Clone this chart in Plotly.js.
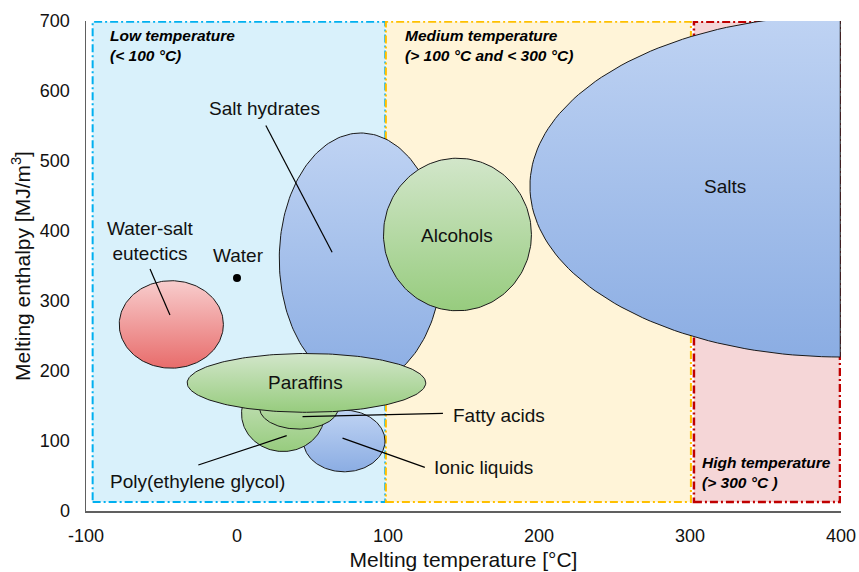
<!DOCTYPE html>
<html>
<head>
<meta charset="utf-8">
<script src="https://cdn.plot.ly/plotly-3.0.1.min.js"></script>
<style>
  html, body { margin: 0; padding: 0; background: #ffffff; }
  #chart { width: 859px; height: 572px; }
</style>
</head>
<body>
<div id="chart"></div>
<script>
// Material classes: melting temperature range [°C] and melting enthalpy range [MJ/m³]
const materials = ['Salts', 'Salt hydrates', 'Alcohols', 'Water-salt eutectics',
                   'Ionic liquids', 'Poly(ethylene glycol)', 'Fatty acids', 'Paraffins'];
const tMin = [194,  28,  97, -78,  44,   3,  15, -33];
const tMax = [606, 136, 195,  -9,  98,  58,  67, 125];
const hMin = [220, 180, 286, 204,  56,  85, 117, 141];
const hMax = [708, 540, 504, 329, 144, 193, 177, 225];
const family = ['blue', 'blue', 'green', 'red', 'blue', 'green', 'green', 'green'];

// Water as a single reference point
const waterT = [0];
const waterH = [333];

// Temperature bands
const bandNames = ['Low temperature<br>(< 100 °C)',
                   'Medium temperature<br>(> 100 °C and < 300 °C)',
                   'High temperature<br>(> 300 °C )'];
const bandFrom = [-95.6, 98.6, 302.6];
const bandTo   = [98.2, 300.6, 399.3];

const xTicks = [-100, 0, 100, 200, 300, 400];
const yTicks = [0, 100, 200, 300, 400, 500, 600, 700];

// ---- styling ----
const X_RANGE = [-100, 400];
const Y_RANGE = [0, 700];
const FONT = 'Arial, "Liberation Sans", sans-serif';
const gradients = {
  blue:  { top: '#bfd3f3', bottom: '#8badE3' },
  green: { top: '#d2e6ca', bottom: '#97cc7e' },
  red:   { top: '#f8cdcd', bottom: '#e86c6b' }
};
const bandStyle = [
  { fill: '#d9f1fb', line: '#00b0f0', width: 2 },
  { fill: '#fff4d8', line: '#ffc000', width: 2 },
  { fill: '#f5d6d7', line: '#c00000', width: 2.5 }
];

// Build an ellipse outline spanning a temperature / enthalpy range,
// held inside the visible temperature axis.
function ellipse(i) {
  const cx = (tMin[i] + tMax[i]) / 2, cy = (hMin[i] + hMax[i]) / 2;
  const a = (tMax[i] - tMin[i]) / 2, b = (hMax[i] - hMin[i]) / 2;
  const xs = [], ys = [];
  const n = 200;
  const xEdge = X_RANGE[1] - 0.5;
  for (let k = 0; k <= n; k++) {
    const t = 2 * Math.PI * k / n;
    xs.push(Math.min(cx + a * Math.cos(t), xEdge));
    ys.push(cy + b * Math.sin(t));
  }
  return { xs, ys };
}

const traces = materials.map((name, i) => {
  const e = ellipse(i);
  const g = gradients[family[i]];
  return {
    type: 'scatter', mode: 'lines', name: name,
    x: e.xs, y: e.ys,
    fill: 'toself',
    fillgradient: { type: 'vertical', colorscale: [[0, g.bottom], [1, g.top]] },
    line: { color: '#1a1a1a', width: 1 },
    hoverinfo: 'skip', showlegend: false
  };
});

traces.push({
  type: 'scatter', mode: 'markers', name: 'Water',
  x: waterT, y: waterH,
  marker: { color: '#000000', size: 8 },
  hoverinfo: 'skip', showlegend: false
});

// Band rectangles
const shapes = bandNames.map((_, i) => ({
  type: 'rect', layer: 'below', xref: 'x', yref: 'y',
  x0: bandFrom[i], x1: bandTo[i], y0: 13, y1: 699,
  fillcolor: bandStyle[i].fill,
  line: { color: bandStyle[i].line, width: bandStyle[i].width, dash: '8px,3px,2px,3px' }
}));

// Leader lines from labels to their regions
const leaders = [
  [19.1, 550.7, 63.0, 369.7],
  [-57.6, 345.7, -44.4, 280.0],
  [43.4, 134.7, 136.4, 139.6],
  [-25.6, 65.7, 32.9, 107.6],
  [69.9, 104.1, 124.4, 62.4]
];
leaders.forEach(l => shapes.push({
  type: 'line', layer: 'above', xref: 'x', yref: 'y',
  x0: l[0], y0: l[1], x1: l[2], y1: l[3],
  line: { color: '#000000', width: 1.2 }
}));

// Text labels
const labelText = ['Salts', 'Salt hydrates', 'Alcohols', 'Water-salt<br>eutectics',
                   'Ionic liquids', 'Poly(ethylene glycol)', 'Fatty acids', 'Paraffins', 'Water'];
const labelX = [323, 18.5, 145.6, -57.6, 163.4, -26.2, 173.8, 45.6, 1.3];
const labelY = [462.9, 575.7, 393, 385.3, 61.9, 42.1, 137.1, 182.9, 365.7];

const annotations = labelText.map((t, i) => ({
  xref: 'x', yref: 'y', x: labelX[i], y: labelY[i],
  text: t, showarrow: false, xanchor: 'center', yanchor: 'middle',
  font: { family: FONT, size: 19, color: '#111111' }
}));

const bandLabelX = [-85.2, 109.7, 306.4];
const bandLabelY = [664.3, 664.3, 54.6];
bandNames.forEach((t, i) => annotations.push({
  xref: 'x', yref: 'y', x: bandLabelX[i], y: bandLabelY[i],
  text: '<b><i>' + t + '</i></b>', showarrow: false,
  xanchor: 'left', yanchor: 'middle', align: 'left',
  font: { family: FONT, size: 15.5, color: '#000000' }
}));

const layout = {
  width: 859, height: 572,
  margin: { l: 86, r: 17.5, t: 21, b: 61 },
  paper_bgcolor: '#ffffff', plot_bgcolor: '#ffffff',
  font: { family: FONT, color: '#111111' },
  showlegend: false, hovermode: false,
  xaxis: {
    range: X_RANGE, tickvals: xTicks, ticktext: xTicks.map(String),
    showgrid: false, zeroline: false,
    showline: true, linecolor: '#606060', linewidth: 1.5,
    ticks: '', ticklabelstandoff: 8,
    tickfont: { size: 18, family: FONT, color: '#111111' },
    title: { text: 'Melting temperature [°C]', font: { size: 21, family: FONT, color: '#111111' }, standoff: 7 }
  },
  yaxis: {
    range: Y_RANGE, tickvals: yTicks, ticktext: yTicks.map(String),
    showgrid: false, zeroline: false,
    showline: true, linecolor: '#606060', linewidth: 1.5,
    ticks: '', ticklabelstandoff: 11,
    tickfont: { size: 18, family: FONT, color: '#111111' },
    title: { text: 'Melting enthalpy [MJ/m<sup>3</sup>]', font: { size: 21, family: FONT, color: '#111111' }, standoff: 3 }
  },
  shapes: shapes,
  annotations: annotations
};

Plotly.newPlot('chart', traces, layout, { staticPlot: true, displayModeBar: false });
</script>
</body>
</html>
